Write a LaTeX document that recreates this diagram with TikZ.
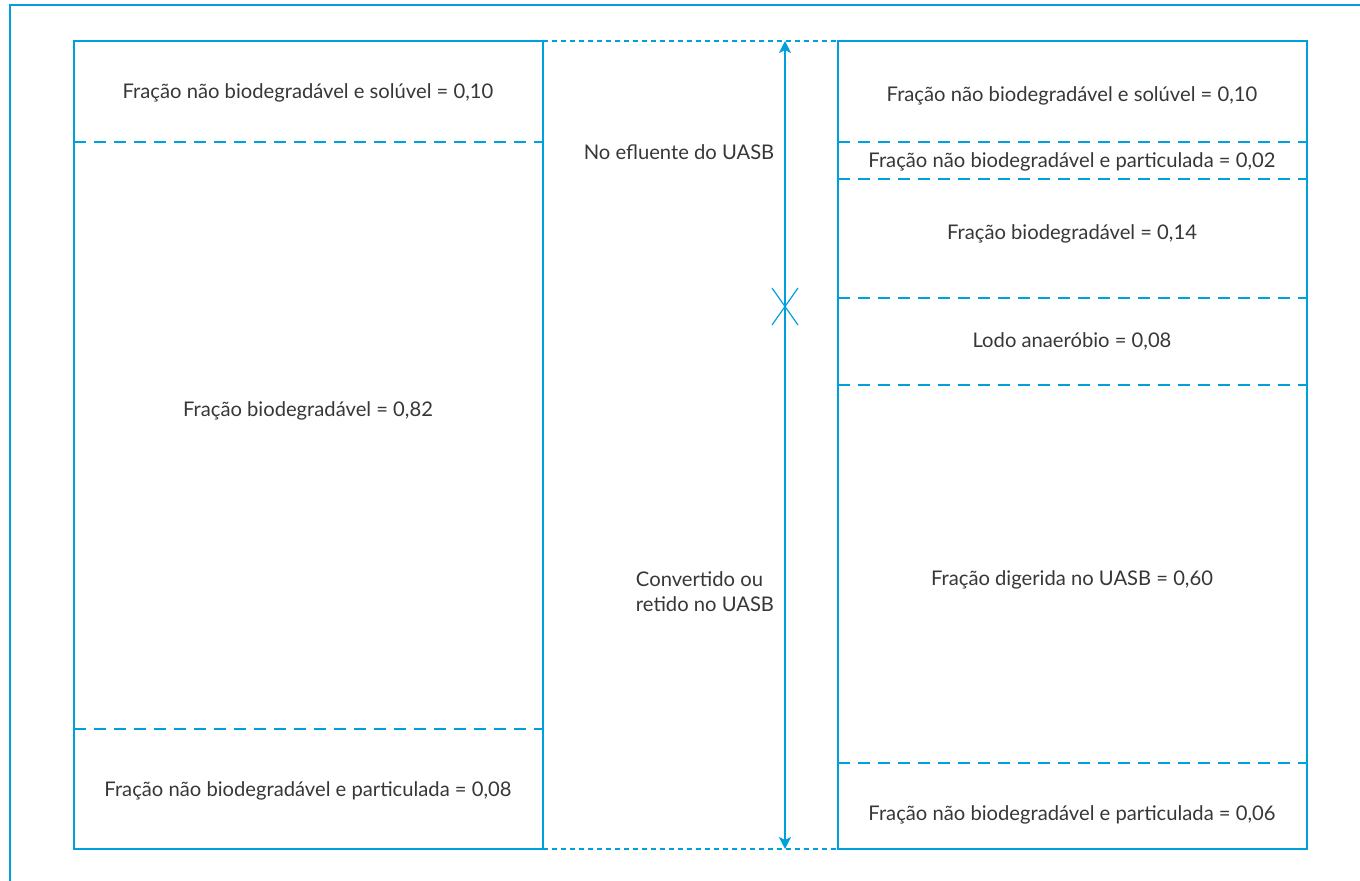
\documentclass[tikz,border=0pt]{standalone}
\usepackage{fontspec}
\setmainfont{Lato}
\usepackage{tikz}
\usetikzlibrary{positioning,arrows.meta}
\definecolor{linhaazul}{RGB}{0,160,220}
\definecolor{texto}{RGB}{55,55,55}

\begin{document}
\begin{tikzpicture}[x=0.5pt, y=-0.5pt,
      frame/.style={draw=linhaazul, line width=0.9pt},
      divisa/.style={draw=linhaazul, line width=0.65pt, dash pattern=on 6pt off 4pt},
      fina/.style={draw=linhaazul, line width=0.6pt, dash pattern=on 2.5pt off 2pt},
      seta/.style={draw=linhaazul, line width=0.65pt, -{Stealth[length=6pt,width=6pt,inset=1.5pt]}},
      rotulo/.style={text=texto, font=\fontsize{10.1}{12.6}\selectfont, inner sep=0pt},
      every node/.style={align=center}]
    \useasboundingbox (0,0) rectangle (1360,881);
    % outer frame
    \draw[frame] (10,881) -- (10,5) -- (1360,5);

    % left column
    \draw[frame] (74,41) rectangle (543,849);
    \draw[divisa] (74,142) -- (543,142);
    \draw[divisa] (74,729) -- (543,729);
    \node[rotulo] (esqSol) at (308,93) {Fração não biodegradável e solúvel = 0,10};
    \node[rotulo] (esqBio) at (308,411) {Fração biodegradável = 0,82};
    \node[rotulo] (esqPart) at (308,791) {Fração não biodegradável e particulada = 0,08};

    % right column
    \draw[frame] (838,41) rectangle (1307,849);
    \foreach \yy in {142,179,298,385,763}
      \draw[divisa] (838,\yy) -- (1307,\yy);
    \node[rotulo] (dirSol) at (1072,96) {Fração não biodegradável e solúvel = 0,10};
    \node[rotulo] (dirPart) at (1072,162) {Fração não biodegradável e particulada = 0,02};
    \node[rotulo] (dirBio) at (1072,234) {Fração biodegradável = 0,14};
    \node[rotulo] (dirLodo) at (1072,341) {Lodo anaeróbio = 0,08};
    \node[rotulo] (dirDig) at (1072,580) {Fração digerida no UASB = 0,60};
    \node[rotulo] (dirPart2) at (1072,815) {Fração não biodegradável e particulada = 0,06};

    % middle
    \draw[fina] (543,41) -- (838,41);
    \draw[fina] (543,849) -- (838,849);
    \coordinate (topo) at (785,41);
    \coordinate (base) at (785,849);
    \coordinate (corte) at (785,307);
    \draw[seta] (corte) -- (topo);
    \draw[seta] (corte) -- (base);
    \draw[draw=linhaazul, line width=0.6pt] ([shift={(-13,-19)}]corte) -- ([shift={(13,18)}]corte);
    \draw[draw=linhaazul, line width=0.6pt] ([shift={(13,-19)}]corte) -- ([shift={(-13,18)}]corte);
    \node[rotulo] (efluente) at (679,152) {No efluente do UASB};
    \node[rotulo, align=left] (convertido) at (705,592) {Convertido ou\\retido no UASB};
  \end{tikzpicture}
\end{document}
